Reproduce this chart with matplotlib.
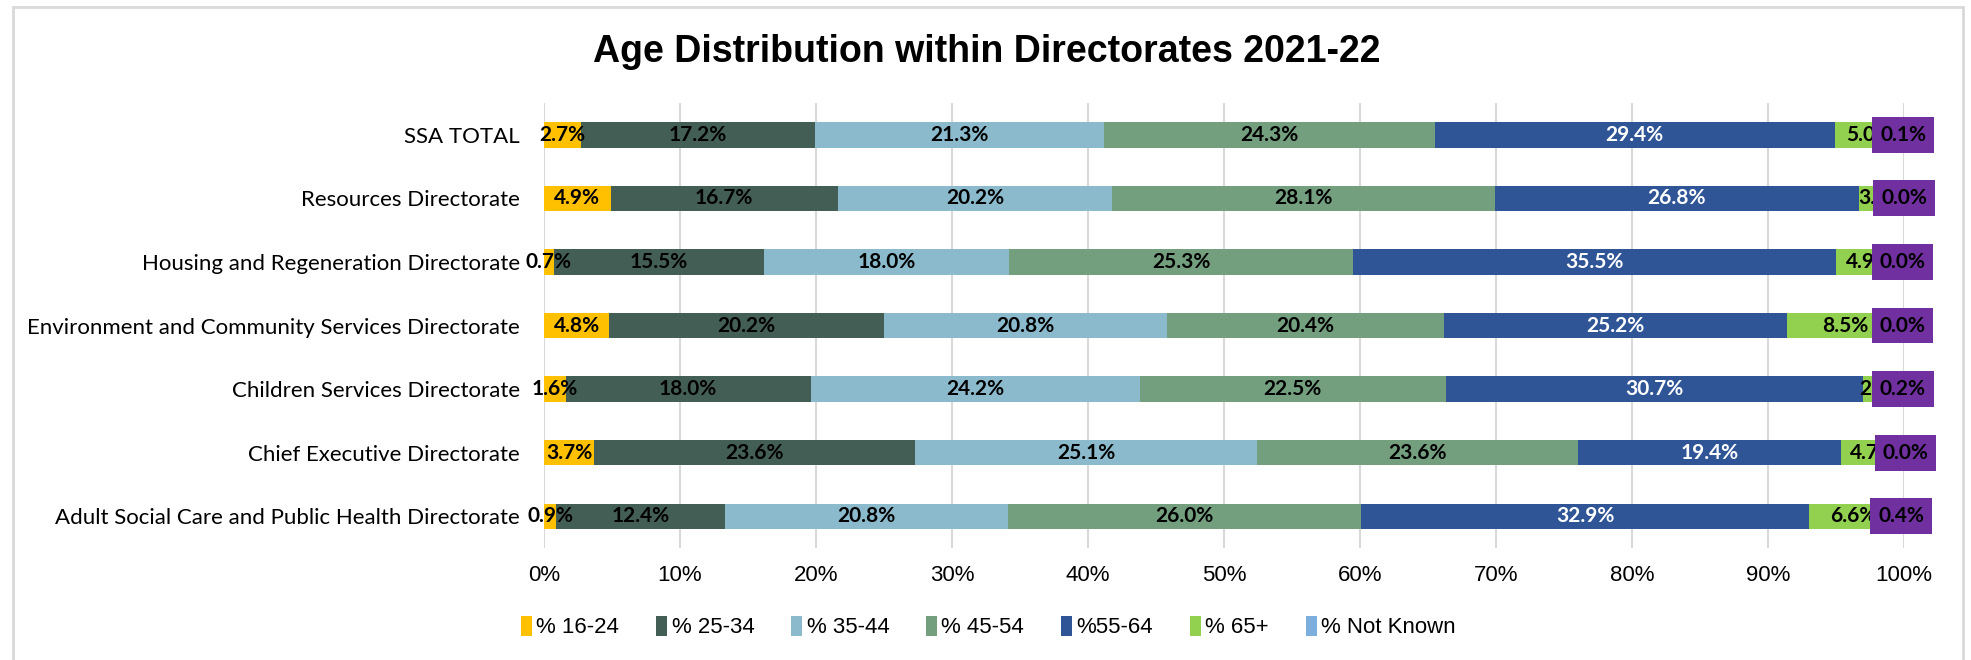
import numpy as np
import matplotlib.pyplot as plt
from matplotlib.ticker import PercentFormatter
from matplotlib.patches import Rectangle

categories = ["SSA TOTAL", "Resources Directorate", "Housing and Regeneration Directorate",
              "Environment and Community Services Directorate", "Children Services Directorate",
              "Chief Executive Directorate", "Adult Social Care and Public Health Directorate"]

age_16_24 = [2.7, 4.9, 0.7, 4.8, 1.6, 3.7, 0.9]
age_25_34 = [17.2, 16.7, 15.5, 20.2, 18.0, 23.6, 12.4]
age_35_44 = [21.3, 20.2, 18.0, 20.8, 24.2, 25.1, 20.8]
age_45_54 = [24.3, 28.1, 25.3, 20.4, 22.5, 23.6, 26.0]
age_55_64 = [29.4, 26.8, 35.5, 25.2, 30.7, 19.4, 32.9]
age_65_plus = [5.0, 3.3, 4.9, 8.5, 2.8, 4.7, 6.6]
not_known = [0.1, 0.0, 0.0, 0.0, 0.2, 0.0, 0.4]

series_names = ["% 16-24", "% 25-34", "% 35-44", "% 45-54", "%55-64", "% 65+", "% Not Known"]
series = [age_16_24, age_25_34, age_35_44, age_45_54, age_55_64, age_65_plus, not_known]
colors = ["#FFC000", "#435E55", "#8BBACC", "#739F7F", "#2F5597", "#92D050", "#7CAFDD"]
label_colors = ["black", "black", "black", "black", "white", "black", "black"]

fig = plt.figure(figsize=(19.71, 6.6), dpi=100)
ax = fig.add_axes([544 / 1971, 1 - 548 / 660, (1904 - 544) / 1971, (548 - 103) / 660])

# light frame around the whole chart
fig.patches.append(Rectangle((13 / 1971, -0.05), (1963 - 13) / 1971, 1.05 - 7 / 660,
                             transform=fig.transFigure, fill=False,
                             edgecolor="#d9d9d9", linewidth=2))

label_font = ["Lato", "DejaVu Sans"]
y = np.arange(len(categories))
left = np.zeros(len(categories))
for i, (name, vals) in enumerate(zip(series_names, series)):
    bars = ax.barh(y, vals, left=left, height=0.40, color=colors[i], label=name, zorder=2)
    last = i == len(series) - 1
    for rect, v in zip(bars, vals):
        cx = rect.get_x() + rect.get_width() / 2
        cy = rect.get_y() + rect.get_height() / 2
        kw = {}
        if last:
            # "not known" labels sit in purple boxes on top of everything
            kw["bbox"] = dict(boxstyle="square,pad=0.38", facecolor="#7030A0", edgecolor="none")
        ax.text(cx, cy, "%.1f%%" % v, ha="center", va="center", color=label_colors[i],
                fontsize=15, fontweight="bold", family=label_font, clip_on=False,
                zorder=6 if last else 4, **kw)
    left += np.array(vals)

ax.set_xlim(0, 100)
ax.set_ylim(len(categories) - 0.5, -0.5)
ax.set_xticks(np.arange(0, 101, 10))
ax.xaxis.set_major_formatter(PercentFormatter(decimals=0))
ax.set_yticks(y)
ax.set_yticklabels(categories, family=label_font, fontsize=16)
for lab in ax.get_xticklabels():
    lab.set_family(["Liberation Sans", "DejaVu Sans"])
    lab.set_fontsize(16)
ax.tick_params(axis="x", length=0, pad=12)
ax.tick_params(axis="y", length=0, pad=17.5)
ax.grid(axis="x", color="#d9d9d9", linewidth=1.5, zorder=0)
for s in ax.spines.values():
    s.set_visible(False)

fig.text(987 / 1971, 1 - 62 / 660, "Age Distribution within Directorates 2021-22",
         ha="center", va="baseline", fontsize=27, fontweight="bold",
         family=["Liberation Sans", "DejaVu Sans"])

fig.legend(loc="center left", bbox_to_anchor=(512 / 1971, 1 - 627 / 660), ncol=7,
           frameon=False, prop={"family": ["Liberation Sans", "DejaVu Sans"], "size": 16},
           handlelength=0.5, handleheight=1.0, handletextpad=0.2, columnspacing=1.65,
           borderaxespad=0)

fig.savefig("out.png", dpi=100, facecolor="white")
